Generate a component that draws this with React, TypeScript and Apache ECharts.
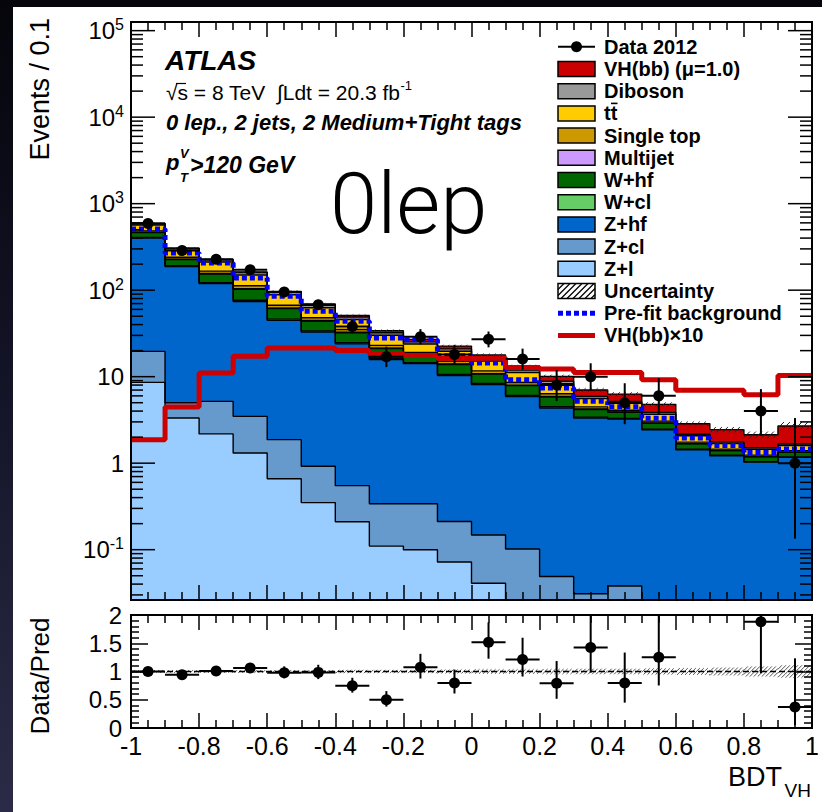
import React, { useEffect, useRef } from 'react';
import * as echarts from 'echarts';

// Bin edges of the BDT_VH distribution (20 bins of width 0.1)
const binEdges = [-1.0, -0.9, -0.8, -0.7, -0.6, -0.5, -0.4, -0.3, -0.2, -0.1, 0.0, 0.1, 0.2, 0.3, 0.4, 0.5, 0.6, 0.7, 0.8, 0.9, 1.0];

// Post-fit yields per bin (events / 0.1)
const zLight = [8.6, 3.33, 2.18, 1.31, 0.66, 0.35, 0.21, 0.11, 0.10, 0.072, 0.041, 0.015, 0.01, 0.008, 0.008, 0.005, 0.005, 0.004, 0.003, 0.003];
const zCl = [11.0, 1.67, 3.0, 2.17, 1.21, 0.57, 0.34, 0.23, 0.24, 0.14, 0.107, 0.087, 0.039, 0.023, 0.03, 0.01, 0.007, 0.006, 0.005, 0.005];
const zHf = [382, 183, 113.8, 70.5, 42.9, 31.9, 23.4, 15.4, 13.8, 10.1, 7.95, 5.8, 4.3, 3.3, 3.2, 2.42, 1.42, 1.21, 1.02, 1.16];
const wCl = [5.6, 3.5, 3.2, 2.6, 1.5, 1.0, 0.75, 0.49, 0.33, 0.32, 0.24, 0.18, 0.14, 0.08, 0.06, 0.04, 0.02, 0.016, 0.014, 0.015];
const wHf = [56, 35, 31.8, 25.9, 15, 10.2, 7.5, 4.9, 3.3, 3.2, 2.4, 1.8, 1.35, 0.77, 0.58, 0.43, 0.22, 0.16, 0.14, 0.15];
const multijet = [2.8, 1.8, 1.6, 1.3, 0.75, 0.51, 0.37, 0.25, 0.17, 0.16, 0.12, 0.09, 0.07, 0.04, 0.03, 0.02, 0.01, 0.008, 0.007, 0.008];
const singleTop = [19, 11.8, 10.6, 8.6, 5.0, 3.4, 2.5, 1.65, 1.1, 1.06, 0.8, 0.6, 0.45, 0.26, 0.19, 0.14, 0.07, 0.05, 0.05, 0.05];
const ttbar = [81, 50.6, 45.5, 37.1, 21.5, 14.7, 10.7, 7.1, 4.8, 4.6, 3.5, 2.6, 1.94, 1.1, 0.83, 0.62, 0.32, 0.23, 0.21, 0.21];
const diboson = [23.6, 14.7, 13.2, 10.8, 6.3, 4.3, 3.1, 2.06, 1.4, 1.3, 1.0, 0.75, 0.56, 0.32, 0.24, 0.18, 0.09, 0.066, 0.06, 0.063];
const vhSignal = [0.187, 0.446, 1.10, 1.72, 2.14, 2.14, 2.01, 1.84, 1.76, 1.62, 1.64, 1.28, 1.23, 1.12, 1.12, 0.92, 0.695, 0.695, 0.62, 1.03];
const prefitBackground = [510, 269, 206, 138, 85, 57, 43.6, 28, 26.8, 17.5, 14.4, 9.2, 7.4, 5.2, 4.5, 3.3, 1.95, 1.6, 1.33, 1.46];
const dataCounts = [590, 288, 228, 172, 95, 68, 38, 17, 29, 18, 27, 16, 8, 10, 5, 6, 0, 0, 4, 1];
// Relative total uncertainty of the prediction
const relUncertainty = [0.025, 0.025, 0.025, 0.025, 0.025, 0.025, 0.03, 0.03, 0.03, 0.035, 0.04, 0.04, 0.045, 0.05, 0.05, 0.055, 0.06, 0.07, 0.09, 0.11];
const signalScale = 10;

// Axis ranges
const yMinMain = 0.0262;
const yMaxMain = 125900;
const logDecades = [-2, -1, 0, 1, 2, 3, 4, 5];

const FONT = "'Liberation Sans', Arial, Helvetica, sans-serif";

// Stack order: first entry sits at the bottom
const stack = [
  { name: 'Z+l', values: zLight, color: '#99ccff' },
  { name: 'Z+cl', values: zCl, color: '#6699cc' },
  { name: 'Z+hf', values: zHf, color: '#0066cc' },
  { name: 'W+cl', values: wCl, color: '#66cc66' },
  { name: 'W+hf', values: wHf, color: '#006600' },
  { name: 'Multijet', values: multijet, color: '#cc99ff' },
  { name: 'Single top', values: singleTop, color: '#cc9900' },
  { name: 'tt', values: ttbar, color: '#ffcc00' },
  { name: 'Diboson', values: diboson, color: '#999999' },
  { name: 'VH(bb) (μ=1.0)', values: vhSignal, color: '#cc0000' },
];

const poissonUp = (n: number) => Math.sqrt(n + 0.75) + 1;
const poissonDown = (n: number) => Math.sqrt(Math.max(n - 0.25, 0));

function hatch(api: any, xl: number, xr: number, lo: number, hi: number, spacing: number, color: string) {
  const p0 = api.coord([xl, lo]);
  const p1 = api.coord([xr, hi]);
  const x0 = p0[0], x1 = p1[0], yb = p0[1], yt = p1[1];
  const h = yb - yt;
  const children: any[] = [];
  for (let s = x0 - h; s < x1; s += spacing) {
    let ax = s, ay = yb, bx = s + h, by = yt;
    if (ax < x0) { ay -= x0 - ax; ax = x0; }
    if (bx > x1) { by += bx - x1; bx = x1; }
    if (bx > ax) children.push({ type: 'line', shape: { x1: ax, y1: ay, x2: bx, y2: by }, style: { stroke: color, lineWidth: 1 } });
  }
  return { type: 'group', children };
}

function buildOption() {
  const nBins = binEdges.length - 1;
  const bins = Array.from({ length: nBins }, (_, i) => i);
  const centers = bins.map((i) => (binEdges[i] + binEdges[i + 1]) / 2);
  const step = (vals: number[]) => binEdges.map((x, i) => [x, vals[Math.min(i, nBins - 1)]]);

  // Cumulative sums of the stack, layer by layer
  const cumulative: number[][] = [];
  stack.forEach((c, k) => {
    cumulative.push(bins.map((i) => (k > 0 ? cumulative[k - 1][i] : 0) + c.values[i]));
  });
  const total = cumulative[cumulative.length - 1];

  // Draw the tallest cumulative first so every lower layer is painted over it
  const stackSeries = stack
    .map((c, k) => ({
      name: c.name,
      type: 'line',
      xAxisIndex: 0,
      yAxisIndex: 0,
      step: 'end',
      data: step(cumulative[k]),
      symbol: 'none',
      clip: true,
      silent: true,
      z: 2,
      lineStyle: { color: '#000', width: 1.4 },
      areaStyle: { color: c.color, opacity: 1, origin: 'start' },
    }))
    .reverse();

  const bandMain = bins.map((i) => [binEdges[i], binEdges[i + 1], total[i] * (1 - relUncertainty[i]), total[i] * (1 + relUncertainty[i])]);
  const bandRatio = bins.map((i) => [binEdges[i], binEdges[i + 1], 1 - relUncertainty[i], 1 + relUncertainty[i]]);

  const dataMain = bins
    .filter((i) => dataCounts[i] > 0)
    .map((i) => {
      const n = dataCounts[i];
      return [centers[i], n, binEdges[i], binEdges[i + 1], n + poissonUp(n), n - poissonDown(n)];
    });
  const dataRatio = bins
    .filter((i) => dataCounts[i] > 0)
    .map((i) => {
      const n = dataCounts[i];
      const t = total[i];
      return [centers[i], n / t, binEdges[i], binEdges[i + 1], (n + poissonUp(n)) / t, (n - poissonDown(n)) / t];
    });

  const renderPoint = (floor: number) => (params: any, api: any) => {
    const xc = api.value(0), v = api.value(1), xl = api.value(2), xr = api.value(3), hi = api.value(4), lo = api.value(5);
    const c = api.coord([xc, v]);
    const pl = api.coord([xl, v]);
    const pr = api.coord([xr, v]);
    const pt = api.coord([xc, hi]);
    const pb = api.coord([xc, Math.max(lo, floor)]);
    return {
      type: 'group',
      children: [
        { type: 'line', shape: { x1: pl[0], y1: c[1], x2: pr[0], y2: c[1] }, style: { stroke: '#000', lineWidth: 2 } },
        { type: 'line', shape: { x1: c[0], y1: pt[1], x2: c[0], y2: pb[1] }, style: { stroke: '#000', lineWidth: 2 } },
        { type: 'circle', shape: { cx: c[0], cy: c[1], r: 5.5 }, style: { fill: '#000' } },
      ],
    };
  };

  const lineStyleTick = { color: '#000', width: 1.5 };
  const xCommon = {
    type: 'value',
    min: -1,
    max: 1,
    interval: 0.2,
    axisLine: { show: false, onZero: false },
    splitLine: { show: false },
    axisTick: { show: true, inside: true, length: 15, lineStyle: lineStyleTick },
    minorTick: { show: true, splitNumber: 4, length: 8, lineStyle: lineStyleTick },
    z: 8,
  };
  const ratioY = {
    type: 'value',
    gridIndex: 1,
    min: 0,
    max: 2,
    interval: 0.5,
    splitLine: { show: false },
    axisLine: { show: false, onZero: false },
    axisTick: { show: true, inside: true, length: 17, lineStyle: lineStyleTick },
    minorTick: { show: true, splitNumber: 5, length: 8, lineStyle: lineStyleTick },
    z: 8,
  };

  const legendRows: any[] = [
    { label: 'Data 2012', kind: 'data' },
    ...stack.slice().reverse().map((c) => ({ label: c.name, kind: 'box', color: c.color })),
    { label: 'Uncertainty', kind: 'hatch' },
    { label: 'Pre-fit background', kind: 'dashed', color: '#0000ff' },
    { label: 'VH(bb)×10', kind: 'line', color: '#cc0000' },
  ];
  const legendGraphics: any[] = [];
  legendRows.forEach((row, k) => {
    const cy = 46.8 + 22.2 * k;
    const x0 = 558, w = 37, h = 15;
    if (row.kind === 'data') {
      legendGraphics.push({ type: 'line', shape: { x1: x0, y1: cy, x2: x0 + w, y2: cy }, style: { stroke: '#000', lineWidth: 2 } });
      legendGraphics.push({ type: 'circle', shape: { cx: x0 + w / 2, cy, r: 5.5 }, style: { fill: '#000' } });
    } else if (row.kind === 'box') {
      legendGraphics.push({ type: 'rect', shape: { x: x0, y: cy - h / 2, width: w, height: h }, style: { fill: row.color, stroke: '#000', lineWidth: 1.5 } });
    } else if (row.kind === 'hatch') {
      legendGraphics.push({ type: 'rect', shape: { x: x0, y: cy - h / 2, width: w, height: h }, style: { fill: '#fff', stroke: '#000', lineWidth: 1.5 } });
      for (let s = x0 - h; s < x0 + w; s += 6) {
        let ax = s, ay = cy + h / 2, bx = s + h, by = cy - h / 2;
        if (ax < x0) { ay -= x0 - ax; ax = x0; }
        if (bx > x0 + w) { by += bx - (x0 + w); bx = x0 + w; }
        if (bx > ax) legendGraphics.push({ type: 'line', shape: { x1: ax, y1: ay, x2: bx, y2: by }, style: { stroke: '#000', lineWidth: 1.2 } });
      }
    } else if (row.kind === 'dashed') {
      legendGraphics.push({ type: 'line', shape: { x1: x0, y1: cy, x2: x0 + w, y2: cy }, style: { stroke: row.color, lineWidth: 5, lineDash: [5, 3] } });
    } else {
      legendGraphics.push({ type: 'line', shape: { x1: x0, y1: cy, x2: x0 + w, y2: cy }, style: { stroke: row.color, lineWidth: 5 } });
    }
    legendGraphics.push({
      type: 'text',
      x: 604,
      y: cy,
      style: { text: row.label, fontFamily: FONT, fontWeight: 'bold', fontSize: 20, fill: '#000', align: 'left', verticalAlign: 'middle' },
    });
    if (row.label === 'tt') {
      legendGraphics.push({ type: 'line', shape: { x1: 611, y1: cy - 10, x2: 617.5, y2: cy - 10 }, style: { stroke: '#000', lineWidth: 1.6 } });
    }
  });

  const textGraphics: any[] = [
    { type: 'text', x: 165, y: 60, style: { text: 'ATLAS', fontFamily: FONT, fontWeight: 'bold', fontStyle: 'italic', fontSize: 28, fill: '#000', align: 'left', verticalAlign: 'middle' } },
    {
      type: 'text', x: 166, y: 92,
      style: {
        text: '{n|√s = 8 TeV  ∫Ldt = 20.3 fb}{s|-1}', align: 'left', verticalAlign: 'middle',
        rich: {
          n: { fontFamily: FONT, fontSize: 21, lineHeight: 26, fill: '#000' },
          s: { fontFamily: FONT, fontSize: 13, lineHeight: 14, verticalAlign: 'top', fill: '#000' },
        },
      },
    },
    { type: 'line', shape: { x1: 176, y1: 83.5, x2: 186, y2: 83.5 }, style: { stroke: '#000', lineWidth: 1.2 } },
    { type: 'text', x: 166, y: 122, style: { text: '0 lep., 2 jets, 2 Medium+Tight tags', fontFamily: FONT, fontWeight: 'bold', fontStyle: 'italic', fontSize: 22, fill: '#000', align: 'left', verticalAlign: 'middle' } },
    { type: 'text', x: 166, y: 162, style: { text: 'p', fontFamily: FONT, fontWeight: 'bold', fontStyle: 'italic', fontSize: 22, fill: '#000', align: 'left', verticalAlign: 'middle' } },
    { type: 'text', x: 180, y: 153, style: { text: 'V', fontFamily: FONT, fontWeight: 'bold', fontStyle: 'italic', fontSize: 13, fill: '#000', align: 'left', verticalAlign: 'middle' } },
    { type: 'text', x: 180, y: 177, style: { text: 'T', fontFamily: FONT, fontWeight: 'bold', fontStyle: 'italic', fontSize: 13, fill: '#000', align: 'left', verticalAlign: 'middle' } },
    { type: 'text', x: 190, y: 165, style: { text: '>120 GeV', fontFamily: FONT, fontWeight: 'bold', fontStyle: 'italic', fontSize: 23, fill: '#000', align: 'left', verticalAlign: 'middle' } },
    { type: 'text', x: 330, y: 204, style: { text: '0lep', fontFamily: "Roboto, 'Open Sans', sans-serif", fontWeight: 300, fontSize: 85, fill: '#000', align: 'left', verticalAlign: 'middle' } },
    { type: 'text', x: 40, y: 18, rotation: Math.PI / 2, style: { text: 'Events / 0.1', fontFamily: FONT, fontSize: 27, fill: '#000', align: 'right', verticalAlign: 'middle' } },
    { type: 'text', x: 40, y: 676, rotation: Math.PI / 2, style: { text: 'Data/Pred', fontFamily: FONT, fontSize: 26, fill: '#000', align: 'center', verticalAlign: 'middle' } },
    { type: 'text', x: 782, y: 777, style: { text: 'BDT', fontFamily: FONT, fontSize: 27, fill: '#000', align: 'right', verticalAlign: 'middle' } },
    { type: 'text', x: 811, y: 790, style: { text: 'VH', fontFamily: FONT, fontSize: 19, fill: '#000', align: 'right', verticalAlign: 'middle' } },
  ];

  return {
    animation: false,
    backgroundColor: 'transparent',
    grid: [
      { left: 131, top: 22, width: 681, height: 578, show: false },
      { left: 131, top: 615, width: 681, height: 113, show: false },
    ],
    xAxis: [
      { ...xCommon, gridIndex: 0, position: 'bottom', axisLabel: { show: false } },
      { ...xCommon, gridIndex: 0, position: 'top', axisLabel: { show: false } },
      { ...xCommon, gridIndex: 1, position: 'bottom', axisLabel: { show: true, margin: 9, lineHeight: 18, fontSize: 25, fontFamily: FONT, color: '#000' } },
      { ...xCommon, gridIndex: 1, position: 'top', axisLabel: { show: false } },
    ],
    yAxis: [
      {
        type: 'log',
        logBase: 10,
        gridIndex: 0,
        min: yMinMain,
        max: yMaxMain,
        axisLine: { show: false, onZero: false },
        axisTick: { show: false },
        minorTick: { show: false },
        splitLine: { show: false },
        z: 8,
        axisLabel: {
          margin: 7,
          showMinLabel: false,
          showMaxLabel: false,
          formatter: (v: number) => {
            const e = Math.round(Math.log10(v));
            if (e === 0) return '{b|1}';
            if (e === 1) return '{b|10}';
            return '{b|10}{s|' + e + '}';
          },
          rich: {
            b: { fontFamily: FONT, fontSize: 24, lineHeight: 28, color: '#000' },
            s: { fontFamily: FONT, fontSize: 16, lineHeight: 16, verticalAlign: 'top', color: '#000' },
          },
        },
      },
      { ...ratioY, position: 'left', axisLabel: { margin: 9, lineHeight: 14, fontSize: 24, fontFamily: FONT, color: '#000' } },
      { ...ratioY, position: 'right', axisLabel: { show: false } },
    ],
    series: [
      ...stackSeries,
      {
        name: 'Uncertainty',
        type: 'custom',
        xAxisIndex: 0,
        yAxisIndex: 0,
        data: bandMain,
        clip: true,
        silent: true,
        z: 3,
        encode: { x: [0, 1], y: [2, 3] },
        renderItem: (p: any, api: any) => hatch(api, api.value(0), api.value(1), api.value(2), api.value(3), 6, '#222'),
      },
      {
        name: 'Pre-fit background',
        type: 'line',
        xAxisIndex: 0,
        yAxisIndex: 0,
        step: 'end',
        data: step(prefitBackground),
        symbol: 'none',
        clip: true,
        silent: true,
        z: 4,
        lineStyle: { color: '#0000ff', width: 5, type: [5, 3] },
      },
      {
        name: 'VH(bb)×10',
        type: 'line',
        xAxisIndex: 0,
        yAxisIndex: 0,
        step: 'end',
        data: step(vhSignal.map((v) => v * signalScale)),
        symbol: 'none',
        clip: true,
        silent: true,
        z: 5,
        lineStyle: { color: '#cc0000', width: 5 },
      },
      {
        name: 'Data 2012',
        type: 'custom',
        xAxisIndex: 0,
        yAxisIndex: 0,
        data: dataMain,
        clip: true,
        silent: true,
        z: 6,
        encode: { x: 0, y: 1 },
        renderItem: renderPoint(yMinMain),
      },
      {
        name: 'main frame',
        type: 'custom',
        xAxisIndex: 0,
        yAxisIndex: 0,
        data: [[0, 1]],
        silent: true,
        z: 8,
        renderItem: (p: any, api: any) => {
          const tl = api.coord([-1, yMaxMain]);
          const br = api.coord([1, yMinMain]);
          const children: any[] = [
            { type: 'rect', shape: { x: tl[0], y: tl[1], width: br[0] - tl[0], height: br[1] - tl[1] }, style: { fill: 'none', stroke: '#000', lineWidth: 2 } },
          ];
          logDecades.forEach((d) => {
            for (let m = 1; m <= 9; m++) {
              const v = m * Math.pow(10, d);
              if (v < yMinMain || v > yMaxMain) continue;
              const len = m === 1 ? 24 : 12;
              const y = api.coord([-1, v])[1];
              children.push({ type: 'line', shape: { x1: tl[0], y1: y, x2: tl[0] + len, y2: y }, style: { stroke: '#000', lineWidth: 1.5 } });
              children.push({ type: 'line', shape: { x1: br[0] - len, y1: y, x2: br[0], y2: y }, style: { stroke: '#000', lineWidth: 1.5 } });
            }
          });
          return { type: 'group', children };
        },
      },
      {
        name: 'Ratio uncertainty',
        type: 'custom',
        xAxisIndex: 2,
        yAxisIndex: 1,
        data: bandRatio,
        clip: true,
        silent: true,
        z: 3,
        encode: { x: [0, 1], y: [2, 3] },
        renderItem: (p: any, api: any) => hatch(api, api.value(0), api.value(1), api.value(2), api.value(3), 4, '#555'),
      },
      {
        name: 'unity',
        type: 'custom',
        xAxisIndex: 2,
        yAxisIndex: 1,
        data: [[0, 1]],
        silent: true,
        z: 4,
        renderItem: (p: any, api: any) => {
          const a = api.coord([-1, 1]);
          const b = api.coord([1, 1]);
          return { type: 'line', shape: { x1: a[0], y1: a[1], x2: b[0], y2: b[1] }, style: { stroke: '#000', lineWidth: 1.5, lineDash: [6, 3] } };
        },
      },
      {
        name: 'Data/Pred',
        type: 'custom',
        xAxisIndex: 2,
        yAxisIndex: 1,
        data: dataRatio,
        clip: true,
        silent: true,
        z: 6,
        encode: { x: 0, y: 1 },
        renderItem: renderPoint(0),
      },
      {
        name: 'ratio frame',
        type: 'custom',
        xAxisIndex: 2,
        yAxisIndex: 1,
        data: [[0, 1]],
        silent: true,
        z: 8,
        renderItem: (p: any, api: any) => {
          const tl = api.coord([-1, 2]);
          const br = api.coord([1, 0]);
          return { type: 'rect', shape: { x: tl[0], y: tl[1], width: br[0] - tl[0], height: br[1] - tl[1] }, style: { fill: 'none', stroke: '#000', lineWidth: 2 } };
        },
      },
    ],
    graphic: [...textGraphics, ...legendGraphics].map((g) => ({ ...g, z: 20, silent: true })),
  };
}

export default function App() {
  const ref = useRef<HTMLDivElement>(null);
  useEffect(() => {
    if (!ref.current) return;
    const chart = echarts.init(ref.current, null, { renderer: 'svg' });
    chart.setOption(buildOption() as any);
    return () => chart.dispose();
  }, []);
  return (
    <div
      style={{
        position: 'fixed',
        left: 0,
        top: 0,
        width: 822,
        height: 812,
        background: 'linear-gradient(to bottom, #05050b 0%, #131326 45%, #2b2b47 100%)',
      }}
    >
      <div style={{ position: 'absolute', left: 13, top: 7, right: 0, bottom: 0, background: '#ffffff' }} />
      <div ref={ref} style={{ position: 'absolute', left: 0, top: 0, width: 822, height: 812 }} />
    </div>
  );
}
